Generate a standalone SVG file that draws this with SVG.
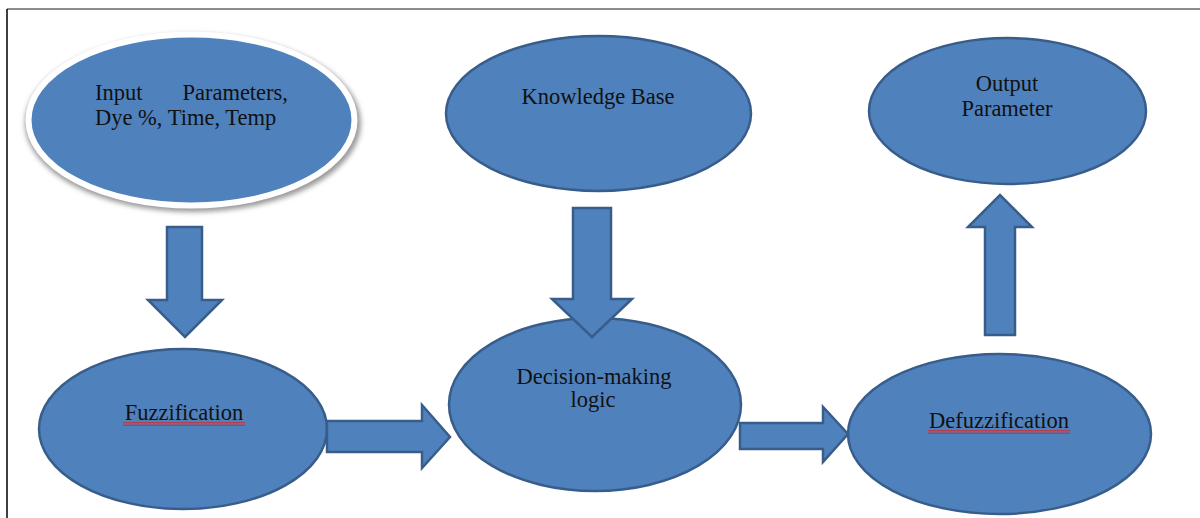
<svg xmlns="http://www.w3.org/2000/svg" width="1200" height="518" viewBox="0 0 1200 518">
  <defs>
    <filter id="blur" x="-10%" y="-10%" width="120%" height="120%">
      <feGaussianBlur stdDeviation="2.5"/>
    </filter>
    <pattern id="wave" width="4" height="4" patternUnits="userSpaceOnUse">
      <path d="M0,3.5 L1,0.5 L2,3.5 L3,0.5 L4,3.5" fill="none" stroke="#e0201a" stroke-width="0.8"/>
    </pattern>
  </defs>
  <style>
    .node { fill: #4F81BD; stroke: #385D8A; stroke-width: 2.5; }
    .arrow { fill: #4F81BD; stroke: #385D8A; stroke-width: 2.5; stroke-linejoin: miter; }
    .lbl { font-family: "Liberation Serif", "Times New Roman", serif; font-size: 22.5px; fill: #111; }
  </style>
  <rect x="0" y="0" width="1200" height="518" fill="#ffffff"/>
  <!-- frame -->
  <line x1="7" y1="9" x2="1200" y2="9" stroke="#666" stroke-width="1.5"/>
  <line x1="7" y1="9" x2="7" y2="518" stroke="#000" stroke-width="1.5"/>

  <g id="input">
    <ellipse cx="193" cy="123" rx="168" ry="89" fill="#9a9a9a" filter="url(#blur)"/>
    <ellipse cx="191.5" cy="120" rx="163" ry="85.5" fill="#4F81BD" stroke="#ffffff" stroke-width="6"/>
    <text class="lbl" x="95" y="100">Input</text>
    <text class="lbl" x="288" y="100" text-anchor="end">Parameters,</text>
    <text class="lbl" x="95" y="125">Dye %, Time, Temp</text>
  </g>

  <g id="knowledge">
    <ellipse class="node" cx="598.5" cy="113.5" rx="152.5" ry="77.5"/>
    <text class="lbl" x="598" y="104" text-anchor="middle">Knowledge Base</text>
  </g>

  <g id="output">
    <ellipse class="node" cx="1007.5" cy="111" rx="138.5" ry="73"/>
    <text class="lbl" x="1007" y="91" text-anchor="middle">Output</text>
    <text class="lbl" x="1007" y="116" text-anchor="middle">Parameter</text>
  </g>

  <g id="fuzzification">
    <ellipse class="node" cx="183" cy="429" rx="144" ry="80"/>
    <text class="lbl" x="184" y="420" text-anchor="middle">Fuzzification</text>
    <rect x="123" y="422" width="122" height="4" fill="url(#wave)"/>
  </g>

  <g id="decision">
    <ellipse class="node" cx="595" cy="404.5" rx="146" ry="86.5"/>
    <text class="lbl" x="594" y="384" text-anchor="middle">Decision-making</text>
    <text class="lbl" x="593" y="407" text-anchor="middle">logic</text>
  </g>

  <g id="defuzzification">
    <ellipse class="node" cx="999.5" cy="434" rx="151.5" ry="80"/>
    <text class="lbl" x="999" y="428" text-anchor="middle">Defuzzification</text>
    <rect x="928" y="430" width="142" height="4" fill="url(#wave)"/>
  </g>

  <g id="connectors">
    <!-- Input -> Fuzzification -->
    <path class="arrow" d="M167,227 L202,227 L202,300 L222,300 L185,337 L148,300 L167,300 Z"/>
    <!-- Fuzzification -> Decision -->
    <path class="arrow" d="M327,421 L422,421 L422,405 L450,437 L422,468 L422,452 L327,452 Z"/>
    <!-- Knowledge Base -> Decision -->
    <path class="arrow" d="M573,208 L611,208 L611,299 L632,299 L592,337 L552,299 L573,299 Z"/>
    <!-- Decision -> Defuzzification -->
    <path class="arrow" d="M740,423 L823,423 L823,407 L848,434 L823,462 L823,449 L740,449 Z"/>
    <!-- Defuzzification -> Output -->
    <path class="arrow" d="M985,335 L985,227 L968,227 L1000,195 L1032,227 L1015,227 L1015,335 Z"/>
  </g>
</svg>
